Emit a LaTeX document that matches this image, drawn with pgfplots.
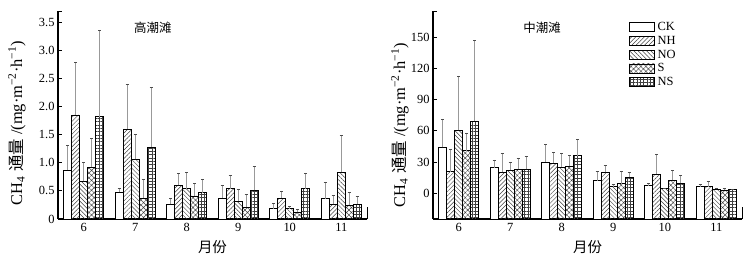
\documentclass[border=0pt]{standalone}
\usepackage{pgfplots}
\pgfplotsset{compat=1.18}
\usepackage{fontspec}
\setmainfont{Liberation Serif}
\newfontfamily\cjk{Noto Sans CJK SC}
\usetikzlibrary{patterns.meta}

\pgfplotsset{
  legbox/.style={/pgfplots/legend image code/.code={\draw[##1,line width=0.7bp] (0bp,-4.5bp) rectangle (25bp,4.5bp);}},
  ck/.style={draw=black, fill=white, line width=0.8bp, legbox},
  nh/.style={draw=black, line width=0.8bp, pattern={Lines[angle=45,distance=3bp,line width=0.45bp]}, pattern color=black!75, legbox},
  no/.style={draw=black, line width=0.8bp, pattern={Lines[angle=-45,distance=3bp,line width=0.45bp]}, pattern color=black!75, legbox},
  ss/.style={draw=black, line width=0.8bp, pattern={Hatch[angle=45,distance=3.5bp,line width=0.45bp]}, pattern color=black!75, legbox},
  ns/.style={draw=black, line width=0.8bp, pattern={Hatch[angle=0,distance=3.3bp,line width=0.45bp]}, pattern color=black!75, legbox},
  base/.style={
    scale only axis, width=309bp, height=208bp, anchor=south west,
    ybar=0pt, bar width=8bp,
    axis x line*=bottom, axis y line*=left,
    axis line style={line width=1.2bp},
    xmin=-0.5, xmax=5.5,
    xtick={0,...,5}, xticklabels={6,7,8,9,10,11},
    x tick style={draw=none},
    y tick style={line width=0.9bp, black},
    tick align=inside, major tick length=3.5bp,
    tick label style={font=\fontsize{12.5}{14}\selectfont},
    /pgf/number format/assume math mode=true,
    xticklabel style={yshift=-1bp},
    xlabel={\cjk 月份}, xlabel style={font=\cjk\fontsize{14.5}{16}\selectfont, yshift=-2bp},
    error bars/y dir=plus, error bars/y explicit,
    error bars/error bar style={gray!80, line width=0.9bp},
    error bars/error mark options={rotate=90, mark size=1.6bp, black!70, line width=0.7bp},
    clip=false,
  }
}

\begin{document}
\begin{tikzpicture}
\path[use as bounding box] (0,0) rectangle (750bp,257bp);

% ---------- left: high tidal flat ----------
\begin{axis}[base, at={(58bp,38bp)},
  ymin=0, ymax=3.7,
  ytick={0,0.5,1,1.5,2,2.5,3,3.5},
  yticklabels={0,0.5,1.0,1.5,2.0,2.5,3.0,3.5}]
\addplot[ck] table[x=x,y=y,y error=e]{
x y e
0 0.87 0.44
1 0.48 0.06
2 0.26 0.11
3 0.37 0.23
4 0.18 0.09
5 0.36 0.30
};
\addplot[nh] table[x=x,y=y,y error=e]{
x y e
0 1.85 0.93
1 1.60 0.80
2 0.60 0.21
3 0.54 0.24
4 0.37 0.13
5 0.26 0.16
};
\addplot[no] table[x=x,y=y,y error=e]{
x y e
0 0.67 0.34
1 1.06 0.45
2 0.54 0.29
3 0.32 0.20
4 0.18 0.04
5 0.83 0.66
};
\addplot[ss] table[x=x,y=y,y error=e]{
x y e
0 0.92 0.52
1 0.37 0.34
2 0.41 0.23
3 0.21 0.23
4 0.12 0.06
5 0.25 0.22
};
\addplot[ns] table[x=x,y=y,y error=e]{
x y e
0 1.82 1.53
1 1.28 1.06
2 0.47 0.23
3 0.51 0.43
4 0.54 0.28
5 0.26 0.14
};
\draw[line width=0.9bp] (rel axis cs:0,1) -- ([xshift=3.5bp]rel axis cs:0,1);
\draw[line width=0.9bp] (rel axis cs:1,0) -- ([yshift=12bp]rel axis cs:1,0);
\node[font=\cjk\fontsize{12.5}{14}\selectfont] at (rel axis cs:0.307,0.918) {高潮滩};
\end{axis}

% ---------- right: middle tidal flat ----------
\begin{axis}[base, at={(433bp,38bp)},
  y filter/.expression={y+25},
  ymin=0, ymax=200.7,
  ytick={25,55,85,115,145,175},
  yticklabels={0,30,60,90,120,150},
  legend style={draw=none, fill=none, at={(0.634,0.952)}, anchor=north west,
    font=\fontsize{12.5}{13}\selectfont, row sep=1.6bp, inner sep=0pt,
    nodes={inner sep=1.2bp}},
  legend cell align=left]
\addplot[ck] table[x=x,y=y,y error=e]{
x y e
0 44 27
1 24.4 7.6
2 30 17
3 12 9
4 7 2
5 6 2.5
};
\addplot[nh] table[x=x,y=y,y error=e]{
x y e
0 20.6 21.4
1 20 18
2 29 10
3 20 7
4 18.3 18.7
5 6 5
};
\addplot[no] table[x=x,y=y,y error=e]{
x y e
0 60.4 52.6
1 21.8 8.2
2 25 13
3 6 2
4 4.5 0.5
5 3.5 1.5
};
\addplot[ss] table[x=x,y=y,y error=e]{
x y e
0 41 17
1 23 11
2 26 10
3 9 12
4 12.2 9.3
5 3 2
};
\addplot[ns] table[x=x,y=y,y error=e]{
x y e
0 69.4 77.6
1 23 12
2 36 16
3 15.4 4.6
4 9.3 7.7
5 3.5 0.5
};
\legend{\hspace{1.5bp}CK,\hspace{1.5bp}NH,\hspace{1.5bp}NO,\hspace{1.5bp}S,\hspace{1.5bp}NS}
\draw[line width=0.9bp] (rel axis cs:0,1) -- ([xshift=3.5bp]rel axis cs:0,1);
\draw[line width=0.9bp] (rel axis cs:1,0) -- ([yshift=12bp]rel axis cs:1,0);
\node[font=\cjk\fontsize{12.5}{14}\selectfont] at (rel axis cs:0.353,0.918) {中潮滩};
\end{axis}

\node[rotate=90, font=\fontsize{16.5}{18}\selectfont] at (17bp,134bp)
  {CH\textsubscript{4} {\cjk 通量} /(mg·m\textsuperscript{−2}·h\textsuperscript{−1})};
\node[rotate=90, font=\fontsize{16.5}{18}\selectfont] at (400bp,132bp)
  {CH\textsubscript{4} {\cjk 通量} /(mg·m\textsuperscript{−2}·h\textsuperscript{−1})};
\end{tikzpicture}
\end{document}
